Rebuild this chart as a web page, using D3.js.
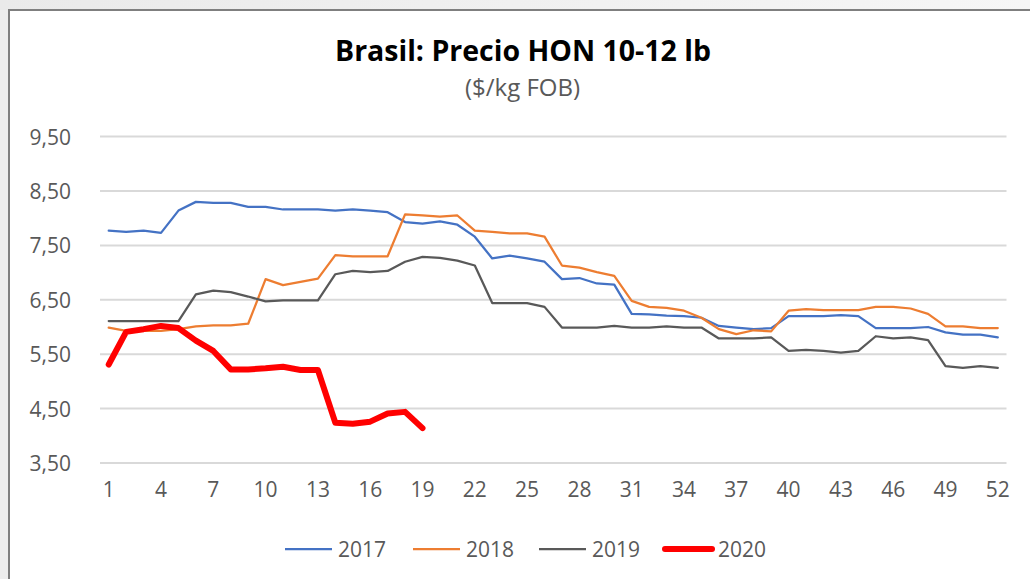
<!DOCTYPE html>
<html>
<head>
<meta charset="utf-8">
<script src="https://cdn.jsdelivr.net/npm/d3@7"></script>
<style>
  html, body { margin: 0; padding: 0; background: #ededed; }
  svg { display: block; }
</style>
</head>
<body>
<svg id="chart" width="1030" height="579"></svg>
<script>
// Weekly FOB price, HON 10-12 lb, Brazil ($/kg)
const weeks = d3.range(1, 53);
const tickWeeks = [1, 4, 7, 10, 13, 16, 19, 22, 25, 28, 31, 34, 37, 40, 43, 46, 49, 52];
const yTicks = [3.5, 4.5, 5.5, 6.5, 7.5, 8.5, 9.5];
const seriesNames = ["2017", "2018", "2019", "2020"];

const values2017 = [7.77, 7.75, 7.77, 7.73, 8.14, 8.30, 8.28, 8.28, 8.21, 8.21,
  8.16, 8.16, 8.16, 8.14, 8.16, 8.14, 8.11, 7.93, 7.90, 7.94,
  7.88, 7.66, 7.26, 7.31, 7.26, 7.20, 6.88, 6.90, 6.80, 6.78,
  6.24, 6.23, 6.21, 6.20, 6.17, 6.02, 5.99, 5.96, 5.98, 6.20,
  6.20, 6.20, 6.22, 6.20, 5.98, 5.98, 5.98, 6.00, 5.90, 5.86,
  5.86, 5.81];
const values2018 = [5.99, 5.93, 5.93, 5.93, 5.96, 6.01, 6.03, 6.03, 6.06, 6.88,
  6.77, 6.83, 6.89, 7.32, 7.30, 7.30, 7.30, 8.07, 8.05, 8.03,
  8.05, 7.77, 7.75, 7.72, 7.72, 7.66, 7.13, 7.09, 7.01, 6.94,
  6.48, 6.37, 6.35, 6.30, 6.17, 5.96, 5.87, 5.94, 5.92, 6.30,
  6.33, 6.31, 6.31, 6.31, 6.37, 6.37, 6.34, 6.24, 6.01, 6.01,
  5.98, 5.98];
const values2019 = [6.11, 6.11, 6.11, 6.11, 6.11, 6.60, 6.67, 6.64, 6.56, 6.47,
  6.49, 6.49, 6.49, 6.97, 7.03, 7.01, 7.03, 7.20, 7.29, 7.27,
  7.22, 7.13, 6.44, 6.44, 6.44, 6.37, 5.99, 5.99, 5.99, 6.02,
  5.99, 5.99, 6.01, 5.99, 5.99, 5.79, 5.79, 5.79, 5.81, 5.56,
  5.58, 5.56, 5.53, 5.56, 5.83, 5.79, 5.81, 5.76, 5.28, 5.25,
  5.28, 5.25];
const values2020 = [5.31, 5.91, 5.96, 6.02, 5.98, 5.75, 5.56, 5.22, 5.22, 5.24,
  5.27, 5.21, 5.21, 4.24, 4.22, 4.26, 4.41, 4.44, 4.14];

const seriesValues = [values2017, values2018, values2019, values2020];
const seriesColors = ["#4472c4", "#ed7d31", "#595959", "#ff0000"];
const seriesWidths = [2.25, 2.25, 2.25, 6];

const font = "'Open Sans', 'Liberation Sans', sans-serif";
const svg = d3.select("#chart");

// Outer frame of the chart object
const frame = svg.append("defs").append("linearGradient")
  .attr("id", "topBand").attr("x1", 0).attr("x2", 1);
frame.append("stop").attr("offset", 0).attr("stop-color", "#eaeaea");
frame.append("stop").attr("offset", 1).attr("stop-color", "#f6f6f6");
svg.append("rect").attr("x", 0).attr("y", 0).attr("width", 1030).attr("height", 10)
  .attr("fill", "url(#topBand)");
svg.append("rect").attr("x", 9).attr("y", 10).attr("width", 1030).attr("height", 579)
  .attr("fill", "#ffffff");
svg.append("path").attr("d", "M9,579V10H1030")
  .attr("fill", "none").attr("stroke", "#7f7f7f").attr("stroke-width", 2);

// Plot area
const plot = { left: 100, right: 1006.5, top: 136.6, bottom: 463 };

const x = d3.scaleBand().domain(weeks).range([plot.left, plot.right]);
const y = d3.scaleLinear().domain([3.5, 9.5]).range([plot.bottom, plot.top]);
const cx = w => x(w) + x.bandwidth() / 2;

// Horizontal gridlines
svg.append("g").selectAll("line").data(yTicks).join("line")
  .attr("x1", plot.left).attr("x2", plot.right)
  .attr("y1", d => y(d)).attr("y2", d => y(d))
  .attr("stroke", "#d9d9d9").attr("stroke-width", 2);

// Value axis labels (comma decimal)
const fmt = d3.formatLocale({ decimal: ",", thousands: ".", grouping: [3], currency: ["$", ""] }).format(".2f");
const yAxis = d3.axisLeft(y).tickValues(yTicks).tickFormat(fmt).tickSize(0).tickPadding(0);
const gy = svg.append("g").attr("transform", "translate(71,0)").call(yAxis);
gy.select(".domain").remove();
gy.selectAll("text").attr("font-family", font).attr("font-size", 21)
  .attr("fill", "#595959").attr("dy", "0.36em");

// Category axis labels
const xAxis = d3.axisBottom(x).tickValues(tickWeeks).tickSize(0).tickPadding(0);
const gx = svg.append("g").attr("transform", "translate(0,482)").call(xAxis);
gx.select(".domain").remove();
gx.selectAll("text").attr("font-family", font).attr("font-size", 21)
  .attr("fill", "#595959").attr("dy", "0.71em");

// Series lines
const line = d3.line().x((d, i) => cx(weeks[i])).y(d => y(d)).curve(d3.curveLinear);
svg.append("g").selectAll("path").data(seriesValues).join("path")
  .attr("d", d => line(d))
  .attr("fill", "none")
  .attr("stroke", (d, i) => seriesColors[i])
  .attr("stroke-width", (d, i) => seriesWidths[i])
  .attr("stroke-linejoin", "round")
  .attr("stroke-linecap", "round");

// Title
svg.append("text").attr("x", 523).attr("y", 61).attr("text-anchor", "middle")
  .attr("font-family", font).attr("font-weight", "bold").attr("font-size", 28.5)
  .attr("fill", "#000000").text("Brasil: Precio HON 10-12 lb");
svg.append("text").attr("x", 522.5).attr("y", 96).attr("text-anchor", "middle")
  .attr("font-family", font).attr("font-size", 24)
  .attr("fill", "#595959").text("($/kg FOB)");

// Legend
const legendX = [285, 413, 539, 665];
const legend = svg.append("g").selectAll("g").data(seriesNames).join("g")
  .attr("transform", (d, i) => `translate(${legendX[i]},549)`);
legend.append("line").attr("x1", 0).attr("x2", 47).attr("y1", 0).attr("y2", 0)
  .attr("stroke", (d, i) => seriesColors[i])
  .attr("stroke-width", (d, i) => seriesWidths[i])
  .attr("stroke-linecap", (d, i) => i === 3 ? "round" : "butt");
legend.append("text").attr("x", 53).attr("y", 0).attr("dy", "0.36em")
  .attr("font-family", font).attr("font-size", 21).attr("fill", "#595959")
  .text(d => d);
</script>
</body>
</html>
